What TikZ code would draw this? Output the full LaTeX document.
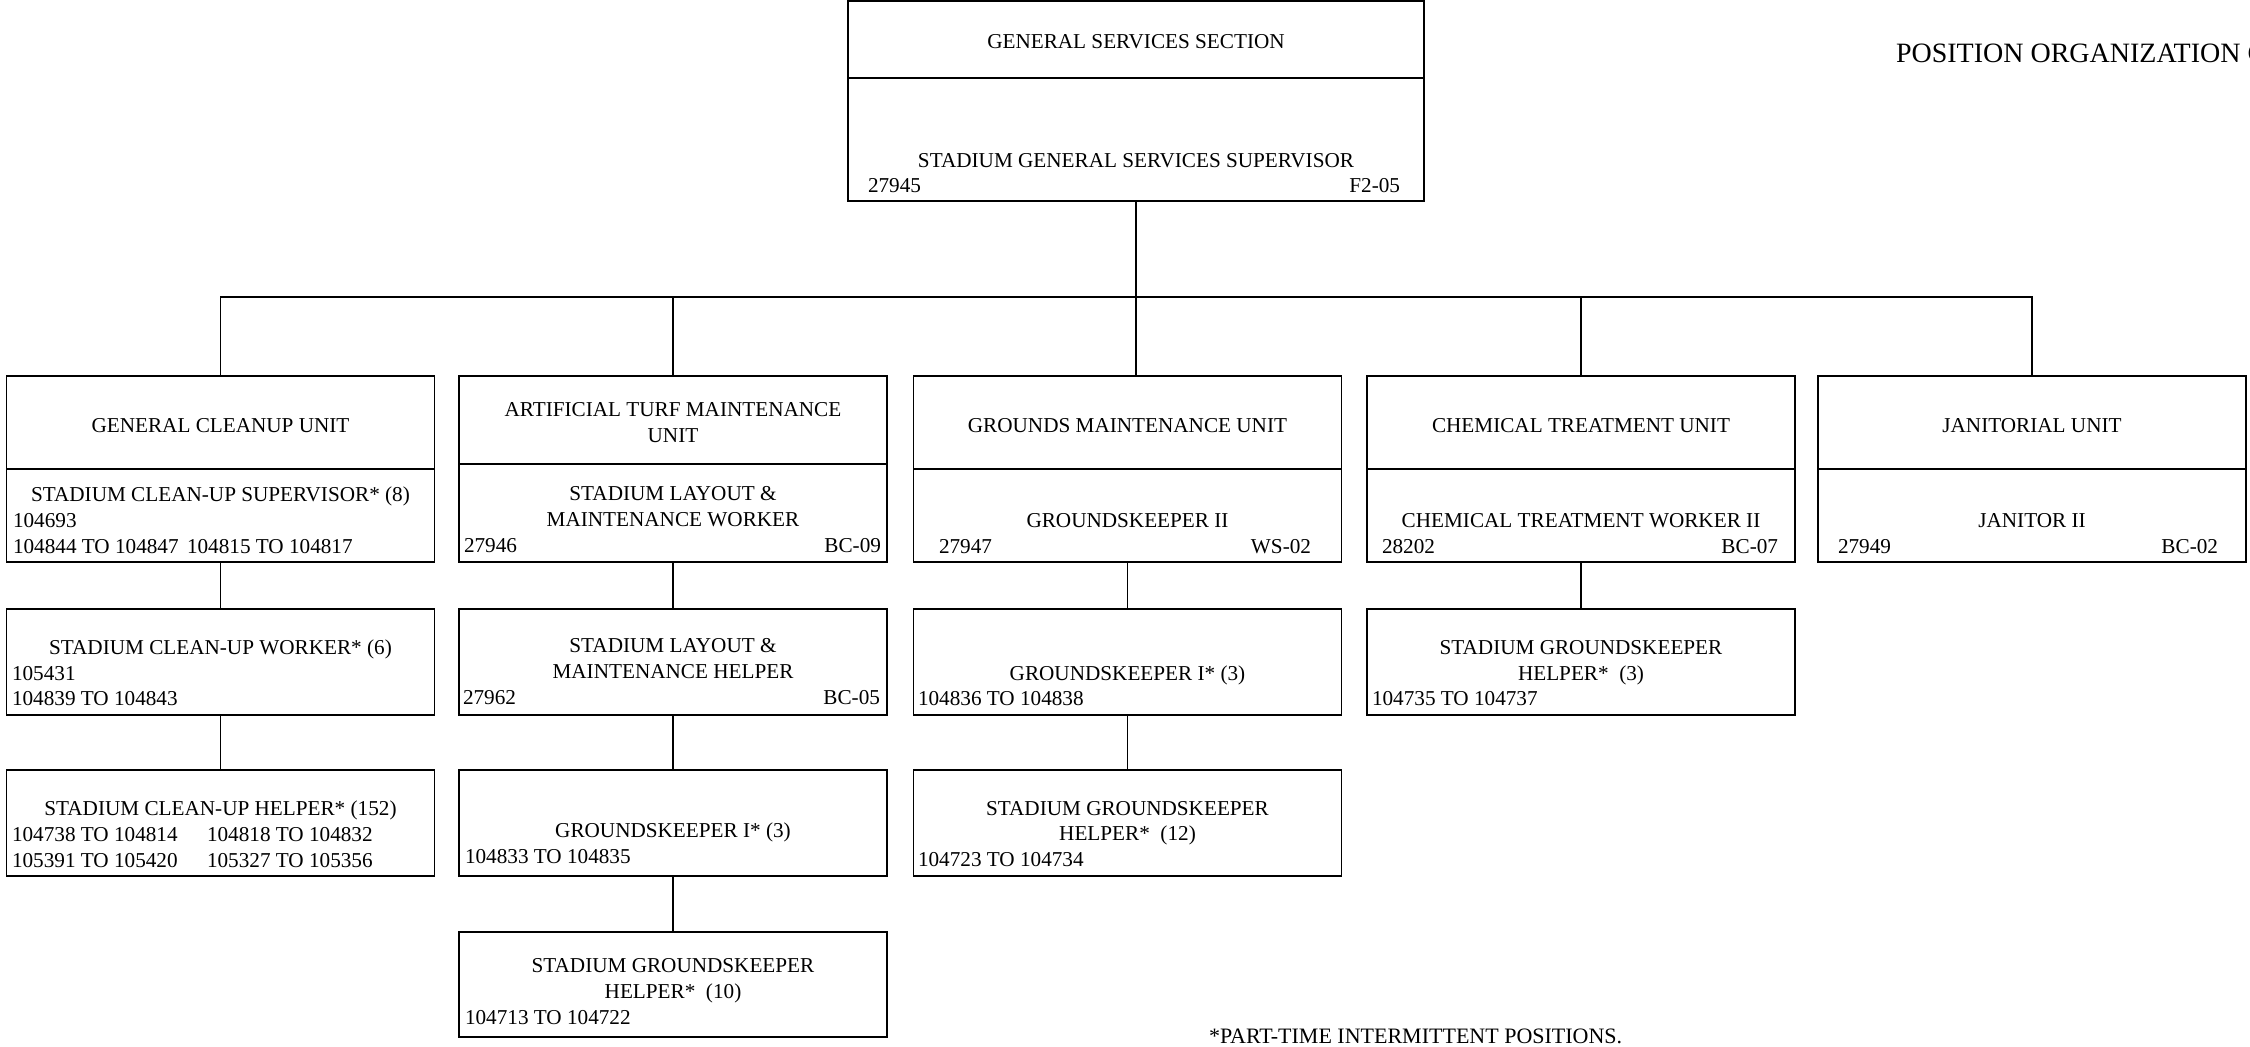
\documentclass[tikz,border=0pt]{standalone}
\usepackage{fontspec}
\setmainfont{Liberation Serif}
\begin{document}
\begin{tikzpicture}[x=0.5pt,y=-0.5pt,
  box/.style={draw, line width=0.75pt, inner sep=0pt, outer sep=0pt, rectangle, minimum width=214pt},
  rowone/.style={box, minimum height=93pt},
  rowtwo/.style={box, minimum height=53pt},
  rowfour/.style={box, minimum height=52.5pt},
  txt/.style={inner sep=0pt, outer sep=0pt, font=\fontsize{10.6}{12.6}\selectfont},
  ctr/.style={txt, anchor=base},
  lft/.style={txt, anchor=base west},
  rgt/.style={txt, anchor=base east},
  link/.style={line width=0.75pt}]
\useasboundingbox (0,0) rectangle (2250,1046);
\clip (0,0) rectangle (2250,1046);

% title
\node[txt, anchor=base west, font=\fontsize{14}{16}\selectfont] (title) at (1896,62) {POSITION ORGANIZATION C};

% top box
\node[box, minimum width=288pt, minimum height=100pt] (T) at (1136,101) {};
\draw[link] ([yshift=-38.5pt]T.north west) -- ([yshift=-38.5pt]T.north east);
\node[ctr] (Tt) at (1136,48) {GENERAL SERVICES SECTION};
\node[ctr] (Tp) at (1136,167) {STADIUM GENERAL SERVICES SUPERVISOR};
\node[lft] (Tn) at (868,192) {27945};
\node[rgt] (Tc) at (1400,192) {F2-05};

% unit boxes (row 1)
\node[rowone] (u1) at (220.5,469) {};
\node[rowone] (u2) at (673,469) {};
\node[rowone] (u3) at (1127.5,469) {};
\node[rowone] (u4) at (1581,469) {};
\node[rowone] (u5) at (2032,469) {};
\draw[link] (u1.west) -- (u1.east);
\draw[link] ([yshift=2.5pt]u2.west) -- ([yshift=2.5pt]u2.east);
\draw[link] (u3.west) -- (u3.east);
\draw[link] (u4.west) -- (u4.east);
\draw[link] (u5.west) -- (u5.east);

% row 2
\node[rowtwo] (c1r2) at (220.5,662) {};
\node[rowtwo] (c2r2) at (673,662) {};
\node[rowtwo] (c3r2) at (1127.5,662) {};
\node[rowtwo] (c4r2) at (1581,662) {};
% row 3
\node[rowtwo] (c1r3) at (220.5,823) {};
\node[rowtwo] (c2r3) at (673,823) {};
\node[rowtwo] (c3r3) at (1127.5,823) {};
% row 4
\node[rowfour] (c2r4) at (673,984.5) {};

% connectors
\coordinate (bus) at (1136,297);
\draw[link] (u1.north) |- (bus) -| (u5.north);
\draw[link] (T.south) -- (T.south |- u3.north);
\draw[link] (u2.north) -- (u2.north |- bus);
\draw[link] (u4.north) -- (u4.north |- bus);
\draw[link] (u1.south) -- (c1r2.north);
\draw[link] (c1r2.south) -- (c1r3.north);
\draw[link] (u2.south) -- (c2r2.north);
\draw[link] (c2r2.south) -- (c2r3.north);
\draw[link] (c2r3.south) -- (c2r4.north);
\draw[link] (u3.south) -- (c3r2.north);
\draw[link] (c3r2.south) -- (c3r3.north);
\draw[link] (u4.south) -- (c4r2.north);

% column 1 texts
\node[ctr] (a1) at (220.5,432) {GENERAL CLEANUP UNIT};
\node[ctr] (a2) at (220.5,501) {STADIUM CLEAN-UP SUPERVISOR* (8)};
\node[lft] (a3) at (13,527) {104693};
\node[lft] (a4) at (13,553) {104844 TO 104847};
\node[lft] (a5) at (187,553) {104815 TO 104817};
\node[ctr] (a6) at (220.5,654) {STADIUM CLEAN-UP WORKER* (6)};
\node[lft] (a7) at (12,680) {105431};
\node[lft] (a8) at (12,705) {104839 TO 104843};
\node[ctr] (a9) at (220.5,815) {STADIUM CLEAN-UP HELPER* (152)};
\node[lft] (a10) at (12,841) {104738 TO 104814};
\node[lft] (a11) at (207,841) {104818 TO 104832};
\node[lft] (a12) at (12,867) {105391 TO 105420};
\node[lft] (a13) at (207,867) {105327 TO 105356};

% column 2 texts
\node[ctr] (b1) at (673,416) {ARTIFICIAL TURF MAINTENANCE};
\node[ctr] (b2) at (673,442) {UNIT};
\node[ctr] (b3) at (673,500.5) {STADIUM LAYOUT \&};
\node[ctr] (b4) at (673,526) {MAINTENANCE WORKER};
\node[lft] (b5) at (464,552) {27946};
\node[rgt] (b6) at (881,552) {BC-09};
\node[ctr] (b7) at (673,652.5) {STADIUM LAYOUT \&};
\node[ctr] (b8) at (673,678) {MAINTENANCE HELPER};
\node[lft] (b9) at (463,704) {27962};
\node[rgt] (b10) at (880,704) {BC-05};
\node[ctr] (b11) at (673,837.5) {GROUNDSKEEPER I* (3)};
\node[lft] (b12) at (465,863) {104833 TO 104835};
\node[ctr] (b13) at (673,972) {STADIUM GROUNDSKEEPER};
\node[ctr] (b14) at (673,998) {HELPER*~~(10)};
\node[lft] (b15) at (465,1024) {104713 TO 104722};

% column 3 texts
\node[ctr] (d1) at (1127.5,432) {GROUNDS MAINTENANCE UNIT};
\node[ctr] (d2) at (1127.5,527) {GROUNDSKEEPER II};
\node[lft] (d3) at (939,553) {27947};
\node[rgt] (d4) at (1311,553) {WS-02};
\node[ctr] (d5) at (1127.5,680) {GROUNDSKEEPER I* (3)};
\node[lft] (d6) at (918,705) {104836 TO 104838};
\node[ctr] (d7) at (1127.5,815) {STADIUM GROUNDSKEEPER};
\node[ctr] (d8) at (1127.5,840) {HELPER*~~(12)};
\node[lft] (d9) at (918,866) {104723 TO 104734};

% column 4 texts
\node[ctr] (e1) at (1581,432) {CHEMICAL TREATMENT UNIT};
\node[ctr] (e2) at (1581,527) {CHEMICAL TREATMENT WORKER II};
\node[lft] (e3) at (1382,553) {28202};
\node[rgt] (e4) at (1778,553) {BC-07};
\node[ctr] (e5) at (1581,654) {STADIUM GROUNDSKEEPER};
\node[ctr] (e6) at (1581,680) {HELPER*~~(3)};
\node[lft] (e7) at (1372,705) {104735 TO 104737};

% column 5 texts
\node[ctr] (f1) at (2032,432) {JANITORIAL UNIT};
\node[ctr] (f2) at (2032,527) {JANITOR II};
\node[lft] (f3) at (1838,553) {27949};
\node[rgt] (f4) at (2218,553) {BC-02};

% footnote
\node[lft, font=\fontsize{11}{13}\selectfont] (note) at (1209,1043) {*PART-TIME INTERMITTENT POSITIONS.};
\end{tikzpicture}
\end{document}
